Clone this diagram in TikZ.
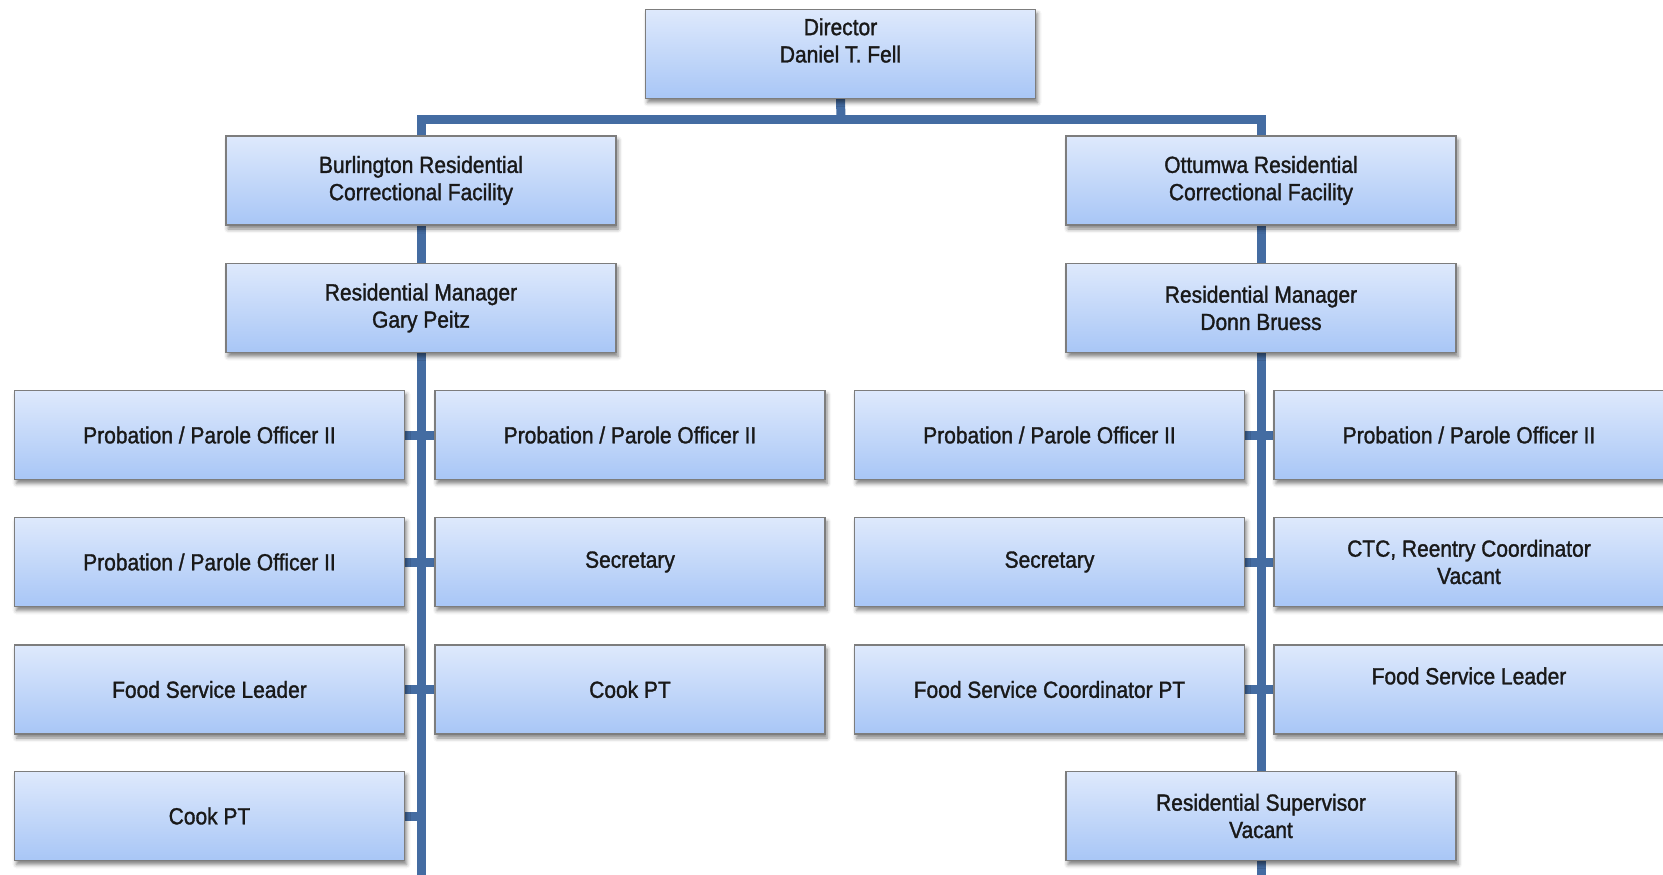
\documentclass[tikz,border=0pt]{standalone}
\usepackage{fontspec}
\setmainfont{Liberation Sans}[FakeStretch=0.90, FakeBold=1.4]
\usetikzlibrary{shadows.blur,backgrounds}
\definecolor{linec}{RGB}{68,108,162}
\definecolor{boxtop}{RGB}{222,233,252}
\definecolor{boxbot}{RGB}{168,198,246}
\definecolor{boxedge}{RGB}{125,125,125}
\definecolor{txt}{RGB}{25,25,25}
\begin{document}
\begin{tikzpicture}[x=1pt,y=-1pt,
  box/.style={draw=boxedge, line width=1.2pt, top color=boxtop, bottom color=boxbot,
    minimum width=390pt, minimum height=89pt, inner sep=0pt, align=center,
    font=\fontsize{23.3}{27.3}\selectfont, text=txt,
    blur shadow={shadow xshift=2pt, shadow yshift=-4pt, shadow blur radius=4pt, shadow opacity=50}},
  conn/.style={draw=linec, line width=9pt}]
\useasboundingbox (0,0) rectangle (1663,875);
\node[box] (dir) at (840.5,54) {Director\\Daniel T. Fell\\\mbox{}};
\node[box] (burl) at (421,180.5) {Burlington Residential\\Correctional Facility};
\node[box] (ott) at (1261,180.5) {Ottumwa Residential\\Correctional Facility};
\node[box] (mgrL) at (421,308) {Residential Manager\\Gary Peitz};
\node[box] (mgrR) at (1261,308) {Residential Manager\\Donn Bruess};
\node[box] (l31) at (209.5,435) {Probation / Parole Officer II};
\node[box] (l32) at (630,435) {Probation / Parole Officer II};
\node[box] (l41) at (209.5,562) {Probation / Parole Officer II};
\node[box] (l42) at (630,562) {Secretary};
\node[box] (l51) at (209.5,689.5) {Food Service Leader};
\node[box] (l52) at (630,689.5) {Cook PT};
\node[box] (l61) at (209.5,816) {Cook PT};
\node[box] (r31) at (1049.5,435) {Probation / Parole Officer II};
\node[box] (r32) at (1469,435) {Probation / Parole Officer II};
\node[box] (r41) at (1049.5,562) {Secretary};
\node[box] (r42) at (1469,562) {CTC, Reentry Coordinator\\Vacant};
\node[box] (r51) at (1049.5,689.5) {Food Service Coordinator PT};
\node[box] (r52) at (1469,689.5) {Food Service Leader\\\mbox{}};
\node[box] (r6) at (1261,816) {Residential Supervisor\\Vacant};
\begin{scope}[on background layer]
\coordinate (bar) at (841,119.5);
\coordinate (endL) at (421,880);
\coordinate (endR) at (1261,880);
\draw[conn] (dir.south) -- (bar);
\draw[conn] (burl.north) |- (bar) -| (ott.north);
\draw[conn] (burl.south) -- (endL);
\draw[conn] (ott.south) -- (endR);
\draw[conn] (l31.east) -- (l32.west);
\draw[conn] (l41.east) -- (l42.west);
\draw[conn] (l51.east) -- (l52.west);
\draw[conn] (l61.east) -- (l61.east -| endL);
\draw[conn] (r31.east) -- (r32.west);
\draw[conn] (r41.east) -- (r42.west);
\draw[conn] (r51.east) -- (r52.west);
\end{scope}
\end{tikzpicture}
\end{document}
